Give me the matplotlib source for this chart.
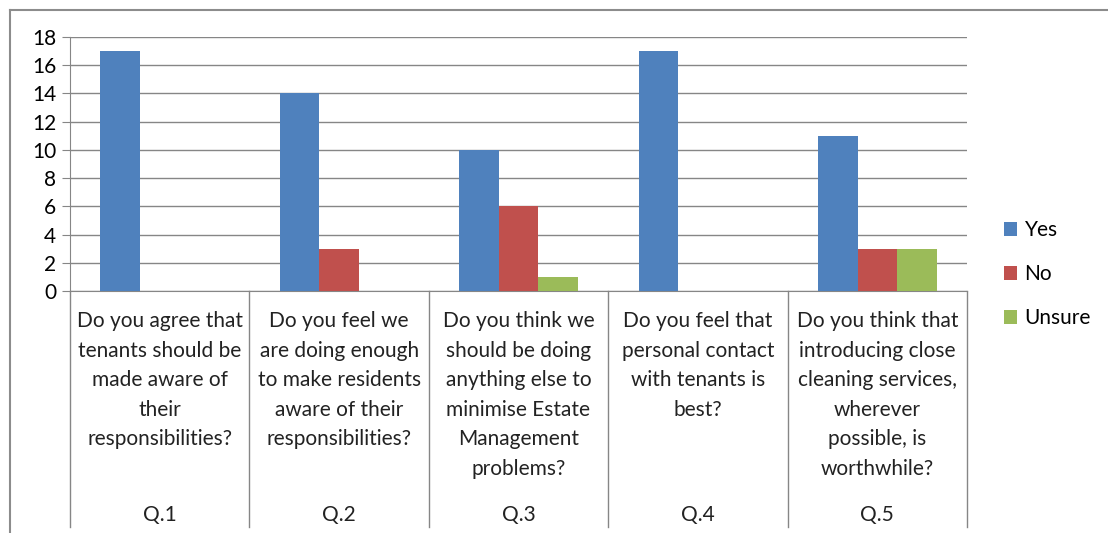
import numpy as np
import matplotlib.pyplot as plt
from matplotlib.lines import Line2D

# chart data
questions = [
    "Do you agree that\ntenants should be\nmade aware of\ntheir\nresponsibilities?",
    "Do you feel we\nare doing enough\nto make residents\naware of their\nresponsibilities?",
    "Do you think we\nshould be doing\nanything else to\nminimise Estate\nManagement\nproblems?",
    "Do you feel that\npersonal contact\nwith tenants is\nbest?",
    "Do you think that\nintroducing close\ncleaning services,\nwherever\npossible, is\nworthwhile?",
]
q_codes = ["Q.1", "Q.2", "Q.3", "Q.4", "Q.5"]
yes = [17, 14, 10, 17, 11]
no = [0, 3, 6, 0, 3]
unsure = [0, 0, 1, 0, 3]
series_names = ["Yes", "No", "Unsure"]

colors = ["#4F81BD", "#C0504D", "#9BBB59"]
grid_col = "#868686"
fs = 15

plt.rcParams['font.family'] = ['Lato', 'DejaVu Sans']

W, H = 1108, 533
fig = plt.figure(figsize=(W / 100, H / 100), dpi=100)

# outer chart border (cropped on right and bottom)
fig.add_artist(Line2D([10 / W, 10 / W], [0, 1 - 10 / H], color="#8c8c8c", lw=1.5))
fig.add_artist(Line2D([10 / W, 1], [1 - 10 / H, 1 - 10 / H], color="#8c8c8c", lw=1.5))

left, right, top, bottom = 70, 967, 37, 291
ax = fig.add_axes([left / W, 1 - bottom / H, (right - left) / W, (bottom - top) / H])

x = np.arange(len(questions))
bw = 0.22
for i, vals in enumerate([yes, no, unsure]):
    ax.bar(x + (i - 1) * bw, vals, width=bw, color=colors[i], label=series_names[i], zorder=3)

ax.set_xlim(-0.5, len(questions) - 0.5)
ax.set_ylim(0, 18)
ax.set_yticks(range(0, 19, 2))
ax.yaxis.grid(True, color=grid_col, lw=1)
ax.set_axisbelow(True)
ax.tick_params(axis='y', length=6, color=grid_col, labelsize=fs, pad=4)
ax.set_xticks([])
for s in ["top", "right"]:
    ax.spines[s].set_visible(False)
ax.spines["left"].set_color(grid_col)
ax.spines["bottom"].set_color(grid_col)

# category separators going down through the label area
trans = ax.get_xaxis_transform()
sep_bottom = (bottom - 527) / (bottom - top)
for b in np.arange(-0.5, len(questions), 1.0):
    ax.plot([b, b], [0, sep_bottom], transform=trans, color=grid_col, lw=1, clip_on=False)

for i, (q, code) in enumerate(zip(questions, q_codes)):
    ax.text(i, (bottom - 311) / (bottom - top), q, transform=trans, ha='center', va='top',
            fontsize=fs, linespacing=1.6, color="#222222")
    ax.text(i, (bottom - 515) / (bottom - top), code, transform=trans, ha='center', va='center',
            fontsize=fs, color="#222222")

ax.legend(loc='center left', bbox_to_anchor=(985 / W, 1 - 274 / H), bbox_transform=fig.transFigure,
          frameon=False, fontsize=fs, handlelength=0.65, handleheight=0.65, handletextpad=0.35,
          labelspacing=1.15)

fig.savefig("out.png", dpi=100)
